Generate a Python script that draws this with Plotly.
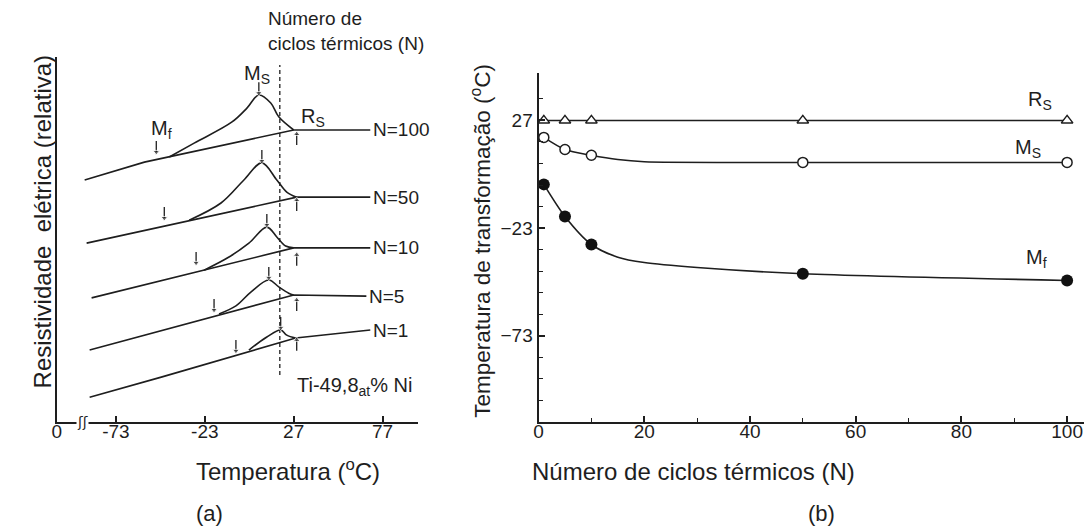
import plotly.graph_objects as go

W, H = 1088, 528
FONT = "Liberation Sans, Arial, sans-serif"
INK = "#1e1e1e"

# ---------------- Panel (a): relative resistivity vs temperature ----------------
# temperatures in degC, resistivity in relative units
curve_labels = ["N=100", "N=50", "N=10", "N=5", "N=1"]

base_T_100 = [-90.6, -57.0, 27.0, 70.1]
base_R_100 = [66.3, 71.2, 80.0, 80.0]
peak_T_100 = [-43.0, -29.0, -7.7, 0.7, 7.4, 14.1, 18.6, 27.0]
peak_R_100 = [72.6, 76.4, 82.2, 86.0, 89.6, 87.4, 83.6, 80.0]

base_T_50 = [-89.5, 28.7, 70.1]
base_R_50 = [49.0, 61.6, 61.6]
peak_T_50 = [-31.8, -13.9, -1.0, 9.1, 17.5, 23.1, 28.7]
peak_R_50 = [55.3, 60.0, 66.3, 71.0, 66.3, 63.0, 61.6]

base_T_10 = [-86.7, 27.0, 70.1]
base_R_10 = [34.0, 47.7, 47.7]
peak_T_10 = [-23.4, -9.4, 1.8, 11.9, 17.5, 22.5, 27.0]
peak_R_10 = [41.6, 45.2, 49.0, 53.4, 50.7, 48.2, 47.7]

base_T_5 = [-87.8, 27.0, 67.9]
base_R_5 = [19.7, 34.8, 34.5]
peak_T_5 = [-15.0, -5.5, 2.9, 13.0, 18.6, 24.2, 27.0]
peak_R_5 = [29.6, 31.8, 35.6, 38.9, 37.0, 35.3, 34.8]

base_T_1 = [-87.8, -47.5, 28.1, 70.1]
base_R_1 = [6.8, 12.3, 23.0, 25.2]
peak_T_1 = [1.8, 11.9, 19.7, 23.1, 28.1]
peak_R_1 = [19.7, 23.3, 25.2, 23.8, 23.0]

# arrow tips marking Mf, Ms, Rs on each curve (N=100, 50, 10, 5, 1)
Mf_T = [-50.3, -45.8, -27.9, -17.8, -5.5]
Mf_R = [74.0, 55.9, 43.6, 30.7, 19.5]
Ms_T = [7.4, 9.1, 11.9, 13.0, 19.7]
Ms_R = [90.1, 71.5, 54.0, 39.5, 25.8]
Rs_T = [28.7, 28.7, 28.7, 28.7, 28.7]
Rs_R = [78.9, 60.8, 45.8, 33.4, 22.5]
ARROW_LEN = 3.0  # arrow shaft length, in relative-resistivity units

dash_T = [19.2, 19.2]
dash_R = [12.9, 97.8]

a_tickvals = [-106.3, -73, -23, 27, 77]
a_ticktext = ["0", "-73", "-23", "27", "77"]

# ---------------- Panel (b): transformation temperatures vs cycles ----------------
N_cycles = [1, 5, 10, 50, 100]
Rs_b = [27, 27, 27, 27, 27]
Ms_b = [19.1, 13.5, 10.8, 7.5, 7.5]
Mf_b = [-2.7, -17.6, -30.6, -44.2, -47.3]

Ms_fit_N = [1, 5, 10, 15, 20, 50, 100]
Ms_fit = [19.1, 13.5, 10.8, 8.8, 7.8, 7.5, 7.5]
Mf_fit_N = [1, 5, 10, 15, 20, 30, 50, 100]
Mf_fit = [-2.7, -17.6, -30.6, -36.5, -39.0, -41.3, -44.2, -47.3]

b_xticks = [0, 20, 40, 60, 80, 100]
b_xminor = [10, 30, 50, 70, 90]
b_yticks = [27, -23, -73]
b_yminor = [37, 17, 7, -3, -13, -33, -43, -53, -63, -83, -93, -103]


def px(x):
    return x / W


def py(y):
    return 1 - y / H


fig = go.Figure()
LW = 1.6

curves = [
    (base_T_100, base_R_100, peak_T_100, peak_R_100),
    (base_T_50, base_R_50, peak_T_50, peak_R_50),
    (base_T_10, base_R_10, peak_T_10, peak_R_10),
    (base_T_5, base_R_5, peak_T_5, peak_R_5),
    (base_T_1, base_R_1, peak_T_1, peak_R_1),
]
for bT, bR, pT, pR in curves:
    fig.add_trace(go.Scatter(x=bT, y=bR, mode="lines", line=dict(color=INK, width=LW),
                             xaxis="x", yaxis="y", showlegend=False, hoverinfo="skip"))
    fig.add_trace(go.Scatter(x=pT, y=pR, mode="lines",
                             line=dict(color=INK, width=LW, shape="spline", smoothing=1.0),
                             xaxis="x", yaxis="y", showlegend=False, hoverinfo="skip"))

fig.add_trace(go.Scatter(x=dash_T, y=dash_R, mode="lines",
                         line=dict(color=INK, width=1.3, dash="4px,3px"),
                         xaxis="x", yaxis="y", showlegend=False, hoverinfo="skip"))

# small arrows (shaft + head) marking Mf, Ms (pointing down) and Rs (pointing up)
for xs, ys, sign in ((Mf_T, Mf_R, 1), (Ms_T, Ms_R, 1), (Rs_T, Rs_R, -1)):
    for t, r in zip(xs, ys):
        fig.add_trace(go.Scatter(
            x=[t, t], y=[r + sign * ARROW_LEN, r], mode="lines+markers",
            line=dict(color=INK, width=1.3),
            marker=dict(symbol=["circle", "triangle-down" if sign > 0 else "triangle-up"],
                        size=[0, 6], color=INK),
            xaxis="x", yaxis="y", showlegend=False, hoverinfo="skip"))

# ---- panel (b) traces ----
fig.add_trace(go.Scatter(x=N_cycles, y=Rs_b, mode="lines+markers",
                         line=dict(color=INK, width=1.5),
                         marker=dict(symbol="triangle-up", size=10, color="white",
                                     line=dict(color=INK, width=1.5)),
                         xaxis="x2", yaxis="y2", showlegend=False))
fig.add_trace(go.Scatter(x=Ms_fit_N, y=Ms_fit, mode="lines",
                         line=dict(color=INK, width=1.5, shape="spline", smoothing=0.8),
                         xaxis="x2", yaxis="y2", showlegend=False, hoverinfo="skip"))
fig.add_trace(go.Scatter(x=N_cycles, y=Ms_b, mode="markers",
                         marker=dict(symbol="circle", size=10, color="white",
                                     line=dict(color=INK, width=1.5)),
                         xaxis="x2", yaxis="y2", showlegend=False))
fig.add_trace(go.Scatter(x=Mf_fit_N, y=Mf_fit, mode="lines",
                         line=dict(color=INK, width=1.6, shape="spline", smoothing=0.8),
                         xaxis="x2", yaxis="y2", showlegend=False, hoverinfo="skip"))
fig.add_trace(go.Scatter(x=N_cycles, y=Mf_b, mode="markers",
                         marker=dict(symbol="circle", size=12, color="#111111"),
                         xaxis="x2", yaxis="y2", showlegend=False))

ann = []
# N labels at the end of each baseline
for lab, (bT, bR, _, _) in zip(curve_labels, curves):
    ann.append(dict(x=bT[-1], y=bR[-1], xref="x", yref="y", text=lab, showarrow=False,
                    xanchor="left", yanchor="middle", xshift=1,
                    font=dict(size=19, color=INK, family=FONT)))

ann += [
    dict(x=Ms_T[0], y=Ms_R[0], xref="x", yref="y", text="M<sub>S</sub>", showarrow=False,
         xanchor="center", yanchor="middle", yshift=19, xshift=-2,
         font=dict(size=20, color=INK, family=FONT)),
    dict(x=Mf_T[0], y=Mf_R[0], xref="x", yref="y", text="M<sub>f</sub>", showarrow=False,
         xanchor="center", yanchor="middle", yshift=22, xshift=5,
         font=dict(size=20, color=INK, family=FONT)),
    dict(x=Rs_T[0], y=Rs_R[0], xref="x", yref="y", text="R<sub>S</sub>", showarrow=False,
         xanchor="left", yanchor="middle", yshift=17, xshift=2,
         font=dict(size=20, color=INK, family=FONT)),
    dict(x=px(262), y=py(6), xref="paper", yref="paper",
         text="Número de<br>ciclos térmicos (N)", showarrow=False, align="left",
         xanchor="left", yanchor="top", font=dict(size=19, color=INK, family=FONT)),
    dict(x=px(291), y=py(386), xref="paper", yref="paper",
         text="Ti-49,8<sub>at</sub>% Ni", showarrow=False,
         xanchor="left", yanchor="middle", font=dict(size=20, color=INK, family=FONT)),
    dict(x=px(78), y=0, xref="paper", yref="y", text="ʃʃ", showarrow=False,
         xanchor="center", yanchor="middle", bgcolor="white", borderpad=0,
         font=dict(size=14, color=INK, family="DejaVu Sans")),
    # titles panel (a)
    dict(x=px(190), y=py(487), xref="paper", yref="paper",
         text="Temperatura (<sup>o</sup>C)", showarrow=False,
         font=dict(size=24, color=INK, family=FONT)),
    dict(x=px(190), y=py(528), xref="paper", yref="paper", text="(a)", showarrow=False,
         yanchor="bottom", font=dict(size=22, color=INK, family=FONT)),
    dict(x=px(23), y=py(222), xref="paper", yref="paper",
         text="Resistividade  elétrica (relativa)", showarrow=False, textangle=-90,
         font=dict(size=24, color=INK, family=FONT)),
    # panel (b)
    dict(x=N_cycles[-1], y=Rs_b[-1], xref="x2", yref="y2", text="R<sub>S</sub>",
         showarrow=False, xshift=-27, yshift=20, font=dict(size=20, color=INK, family=FONT)),
    dict(x=N_cycles[-1], y=Ms_b[-1], xref="x2", yref="y2", text="M<sub>S</sub>",
         showarrow=False, xshift=-39, yshift=14, font=dict(size=20, color=INK, family=FONT)),
    dict(x=N_cycles[-1], y=Mf_b[-1], xref="x2", yref="y2", text="M<sub>f</sub>",
         showarrow=False, xshift=-31, yshift=22, font=dict(size=20, color=INK, family=FONT)),
    dict(x=px(478), y=py(241), xref="paper", yref="paper",
         text="Temperatura de transformação (<sup>o</sup>C)", showarrow=False,
         textangle=-90, font=dict(size=22.5, color=INK, family=FONT)),
    dict(x=px(856), y=py(487), xref="paper", yref="paper",
         text="Número de ciclos térmicos (N)", showarrow=False,
         font=dict(size=24, color=INK, family=FONT)),
    dict(x=px(836), y=py(528), xref="paper", yref="paper", text="(b)", showarrow=False,
         yanchor="bottom", font=dict(size=22, color=INK, family=FONT)),
]

axis_common = dict(showline=True, linecolor=INK, linewidth=2, showgrid=False,
                   zeroline=False, ticks="inside", tickcolor=INK, tickwidth=1.5,
                   ticklen=6, tickfont=dict(size=19, color=INK, family=FONT))

fig.update_layout(
    width=W, height=H,
    margin=dict(l=0, r=0, t=0, b=0),
    paper_bgcolor="white", plot_bgcolor="white",
    font=dict(family=FONT, color=INK),
    showlegend=False,
    xaxis=dict(domain=[px(52), px(415)], range=[-106.3, 97], tickmode="array",
               tickvals=a_tickvals, ticktext=a_ticktext, anchor="y",
               ticklabelstandoff=-9, **axis_common),
    yaxis=dict(domain=[py(422), py(57)], range=[0, 100], showticklabels=False,
               anchor="x", **{**axis_common, "ticks": ""}),
    xaxis2=dict(domain=[px(536), px(1084)], range=[0, 103.2], tickmode="array",
                tickvals=b_xticks, anchor="y2", ticklabelstandoff=-9,
                minor=dict(tickmode="array", tickvals=b_xminor, ticks="inside", ticklen=4,
                           tickcolor=INK, tickwidth=1.2),
                **axis_common),
    yaxis2=dict(domain=[py(422), py(73)], range=[-113, 49], tickmode="array",
                tickvals=b_yticks, anchor="x2",
                minor=dict(tickmode="array", tickvals=b_yminor, ticks="inside", ticklen=4,
                           tickcolor=INK, tickwidth=1.2),
                **axis_common),
    annotations=ann,
)

fig.write_html("out.html")
